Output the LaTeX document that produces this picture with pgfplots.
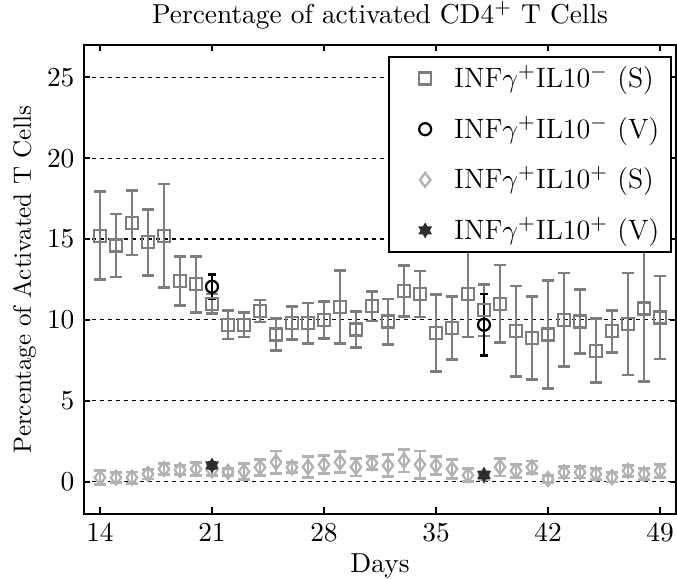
\documentclass[11pt,border=0pt]{standalone}
\usepackage{pgfplots}
\usepackage{pgfplotstable}
\pgfplotsset{compat=1.18}
\usetikzlibrary{plotmarks}
\pgfdeclareplotmark{hexagram}{%
  \pgfpathmoveto{\pgfpointpolar{90}{\pgfplotmarksize}}%
  \pgfpathlineto{\pgfpointpolar{120}{0.577\pgfplotmarksize}}%
  \pgfpathlineto{\pgfpointpolar{150}{\pgfplotmarksize}}%
  \pgfpathlineto{\pgfpointpolar{180}{0.577\pgfplotmarksize}}%
  \pgfpathlineto{\pgfpointpolar{210}{\pgfplotmarksize}}%
  \pgfpathlineto{\pgfpointpolar{240}{0.577\pgfplotmarksize}}%
  \pgfpathlineto{\pgfpointpolar{270}{\pgfplotmarksize}}%
  \pgfpathlineto{\pgfpointpolar{300}{0.577\pgfplotmarksize}}%
  \pgfpathlineto{\pgfpointpolar{330}{\pgfplotmarksize}}%
  \pgfpathlineto{\pgfpointpolar{0}{0.577\pgfplotmarksize}}%
  \pgfpathlineto{\pgfpointpolar{30}{\pgfplotmarksize}}%
  \pgfpathlineto{\pgfpointpolar{60}{0.577\pgfplotmarksize}}%
  \pgfpathclose
  \pgfusepathqfillstroke}
\definecolor{sgray}{RGB}{125,125,125}
\definecolor{lgray}{RGB}{178,178,178}
\definecolor{dstar}{RGB}{45,45,45}
\pgfplotsset{myleg/.style={legend image code/.code={%
    \path[draw=none, fill=none] (0pt,-3pt) rectangle (13pt,3pt);
    \draw[##1] plot coordinates {(9.6pt,0pt)};}}}

\pgfplotstableread{
x y e
14 15.2 2.72
15 14.6 1.95
16 16.0 1.98
17 14.8 2.05
18 15.2 3.2
19 12.4 1.52
20 12.2 1.72
21 11.0 0.6
22 9.7 0.88
23 9.7 0.75
24 10.55 0.68
25 9.1 1.0
26 9.8 1.02
27 9.8 1.25
28 10.0 1.15
29 10.8 2.27
30 9.4 1.12
31 10.85 0.92
32 9.9 1.4
33 11.8 1.57
34 11.6 1.42
35 9.2 2.37
36 9.5 1.95
37 11.6 2.65
38 10.6 1.6
39 11.0 2.4
40 9.3 2.8
41 8.9 2.57
42 9.1 3.35
43 10.0 2.9
44 9.9 1.97
45 8.1 1.97
46 9.3 1.3
47 9.75 3.15
48 10.7 4.5
49 10.15 2.57
}\negS

\pgfplotstableread{
x y e
21 12.05 0.75
38 9.7 1.9
}\negV

\pgfplotstableread{
x y e
14 0.25 0.45
15 0.25 0.3
16 0.25 0.35
17 0.47 0.3
18 0.78 0.35
19 0.72 0.3
20 0.78 0.4
21 0.7 0.3
22 0.6 0.2
23 0.62 0.5
24 0.88 0.5
25 1.2 0.7
26 0.88 0.3
27 0.9 0.65
28 1.05 0.55
29 1.2 0.65
30 0.9 0.55
31 1.15 0.4
32 1.0 0.7
33 1.3 0.7
34 1.05 0.85
35 1.0 0.55
36 0.78 0.6
37 0.4 0.4
38 0.4 0.25
39 0.9 0.55
40 0.67 0.4
41 0.88 0.4
42 0.16 0.2
43 0.58 0.35
44 0.58 0.35
45 0.47 0.35
46 0.27 0.3
47 0.67 0.35
48 0.47 0.35
49 0.67 0.4
}\posS

\pgfplotstableread{
x y e
21 1.0 0.2
38 0.4 0.15
}\posV

\begin{document}
\begin{tikzpicture}
\begin{axis}[
  name=ax,
  scale only axis,
  width=236.8pt, height=187.6pt,
  xmin=13, xmax=50, ymin=-2, ymax=27,
  xtick={14,21,28,35,42,49},
  ytick={0,5,10,15,20,25},
  tick align=inside,
  major tick length=2.6pt,
  every tick/.style={black, line width=0.8pt},
  axis line style={line width=0.9pt},
  ymajorgrids,
  grid style={black, line width=0.45pt, dash pattern=on 1.6pt off 1.6pt},
  title={Percentage of activated CD4$^+$ T Cells},
  every axis title/.style={at={(axis description cs:0.5,1)}, anchor=base, yshift=8.6pt},
  xlabel={Days},
  every axis x label/.style={at={(axis description cs:0.5,0)}, anchor=base, yshift=-23.4pt},
  ylabel={Percentage of Activated T Cells},
  every axis y label/.style={at={(axis description cs:-0.1005,0.5)}, anchor=center, rotate=90, font=\fontsize{10}{12}\selectfont},
  legend style={at={(axis description cs:0.9932,0.9765)}, anchor=north east,
    draw=black, line width=0.6pt, fill=white,
    inner xsep=4.8pt, inner ysep=3.5pt, row sep=9.8pt, column sep=8.2pt,
    nodes={inner sep=0pt}, font=\fontsize{11.2}{13}\selectfont},
  legend cell align=left,
  error bars/y dir=both,
  error bars/y explicit,
]
\addplot[only marks, sgray, mark=square, mark size=2.4pt, mark options={line width=0.9pt},
  error bars/error bar style={line width=1.1pt},
  error bars/error mark options={rotate=90, mark size=2.3pt, line width=1.1pt}, myleg]
  table[x=x, y=y, y error=e] {\negS};
\addlegendentry{INF$\gamma^{+}$IL10$^{-}$~(S)}
\addplot[only marks, black, mark=o, mark size=2.4pt, mark options={line width=0.9pt},
  error bars/error bar style={line width=1.1pt},
  error bars/error mark options={rotate=90, mark size=1.6pt, line width=1.1pt}, myleg]
  table[x=x, y=y, y error=e] {\negV};
\addlegendentry{INF$\gamma^{+}$IL10$^{-}$~(V)}
\addplot[only marks, lgray, mark=diamond, mark size=2.8pt, mark options={line width=0.9pt},
  error bars/error bar style={line width=1.1pt},
  error bars/error mark options={rotate=90, mark size=2.3pt, line width=1.1pt}, myleg]
  table[x=x, y=y, y error=e] {\posS};
\addlegendentry{INF$\gamma^{+}$IL10$^{+}$~(S)}
\addplot[only marks, dstar, mark=hexagram, mark size=2.6pt, mark options={line width=0.6pt, fill=dstar},
  error bars/error bar style={line width=1.1pt},
  error bars/error mark options={rotate=90, mark size=1.6pt, line width=1.1pt}, myleg]
  table[x=x, y=y, y error=e] {\posV};
\addlegendentry{INF$\gamma^{+}$IL10$^{+}$~(V)}
\end{axis}
\pgfresetboundingbox
\path[use as bounding box] ([xshift=-33.6pt,yshift=-26pt]ax.south west) rectangle ([xshift=0.4pt,yshift=18pt]ax.north east);
\end{tikzpicture}
\end{document}
